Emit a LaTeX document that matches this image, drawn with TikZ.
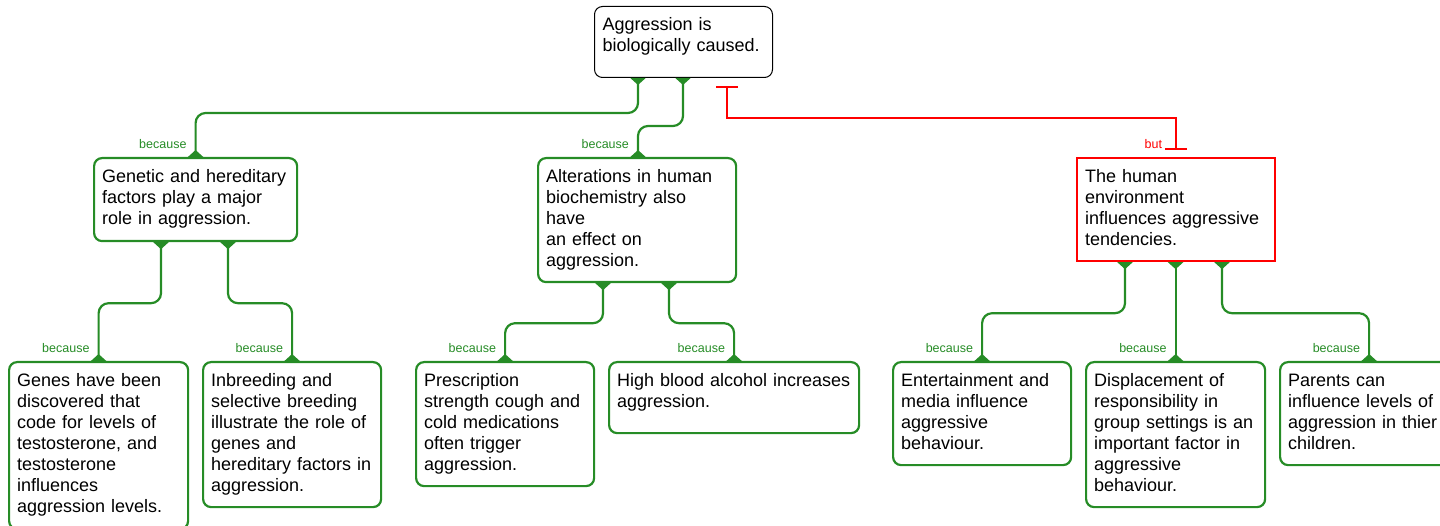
\documentclass[tikz,border=0pt]{standalone}
\usepackage{fontspec}
\setmainfont{Liberation Sans}
\usetikzlibrary{arrows.meta,calc}
\definecolor{argugreen}{RGB}{38,140,38}
\definecolor{argured}{RGB}{255,0,0}

\begin{document}
\begin{tikzpicture}
	[x=1pt,y=-1pt,
	claim/.style={draw=argugreen,line width=2.2pt,rounded corners=8pt,anchor=north west,align=left,inner xsep=8pt,inner ysep=0pt,text height=24pt,font=\fontsize{18}{21}\selectfont},
	support/.style={draw=argugreen,line width=2.2pt,rounded corners=10pt,{Triangle[reversed,width=15pt,length=7pt]}-{Triangle[reversed,width=15pt,length=7pt]}},
	refute/.style={draw=argured,line width=2.2pt,{Bar[width=22pt]}-{Bar[width=22pt]},shorten <=8pt,shorten >=7pt},
	because/.style={anchor=east,xshift=-8pt,yshift=13pt,text=argugreen,inner sep=0pt,font=\fontsize{12.5}{14}\selectfont},
	]
	\useasboundingbox (0,0) rectangle (1440,526);
	% top claim
	\node[claim,draw=black,line width=1pt,text width=162pt,text depth=47pt] (root) at (594,6) {Aggression is\\biologically caused.};
	% second row
	\node[claim,text width=187pt,text depth=59pt] (gen) at (93,157) {Genetic and hereditary\\factors play a major\\role in aggression.};
	\node[claim,text width=182pt,text depth=100pt] (alt) at (537,157) {Alterations in human\\biochemistry also\\have\\an effect on\\aggression.};
	\node[claim,draw=argured,sharp corners,text width=182pt,text depth=79pt] (hum) at (1076,157) {The human\\environment\\influences aggressive\\tendencies.};
	% bottom row
	\node[claim,text width=163pt,text depth=143pt] (genes) at (8,361) {Genes have been\\discovered that\\code for levels of\\testosterone, and\\testosterone\\influences\\aggression levels.};
	\node[claim,text width=162pt,text depth=121pt] (inbr) at (202,361) {Inbreeding and\\selective breeding\\illustrate the role of\\genes and\\hereditary factors in\\aggression.};
	\node[claim,text width=162pt,text depth=100pt] (presc) at (415,361) {Prescription\\strength cough and\\cold medications\\often trigger\\aggression.};
	\node[claim,text width=234pt,text depth=47pt] (alc) at (608,361) {High blood alcohol increases\\aggression.};
	\node[claim,text width=162pt,text depth=79pt] (ent) at (892,361) {Entertainment and\\media influence\\aggressive\\behaviour.};
	\node[claim,text width=163pt,text depth=121pt] (disp) at (1085,361) {Displacement of\\responsibility in\\group settings is an\\important factor in\\aggressive\\behaviour.};
	\node[claim,text width=162pt,text depth=79pt] (par) at (1279,361) {Parents can\\influence levels of\\aggression in thier\\children.};
	% connectors
	\draw[support] ([xshift=44pt]root.south west) -- ++(0,35) -| (gen.north) node[because] (b1) {because};
	\draw[support] ([xshift=89pt]root.south west) -- ++(0,48) -| ([xshift=101pt]alt.north west) node[because] (b2) {because};
	\draw[refute] ([xshift=133pt]root.south west) -- ++(0,40) -| (hum.north) node[because,text=argured,xshift=-5pt] (b3) {but};
	\draw[support] ([xshift=68pt]gen.south west) -- ++(0,61) -| (genes.north) node[because] (b4) {because};
	\draw[support] ([xshift=135pt]gen.south west) -- ++(0,61) -| (inbr.north) node[because] (b5) {because};
	\draw[support] ([xshift=66pt]alt.south west) -- ++(0,40) -| (presc.north) node[because] (b6) {because};
	\draw[support] ([xshift=132pt]alt.south west) -- ++(0,40) -| (alc.north) node[because] (b7) {because};
	\draw[support] ([xshift=49pt]hum.south west) -- ++(0,51) -| (ent.north) node[because] (b8) {because};
	\draw[support] (disp.north |- hum.south) -- (disp.north) node[because] (b9) {because};
	\draw[support] ([xshift=146pt]hum.south west) -- ++(0,51) -| (par.north) node[because] (b10) {because};
\end{tikzpicture}
\end{document}
